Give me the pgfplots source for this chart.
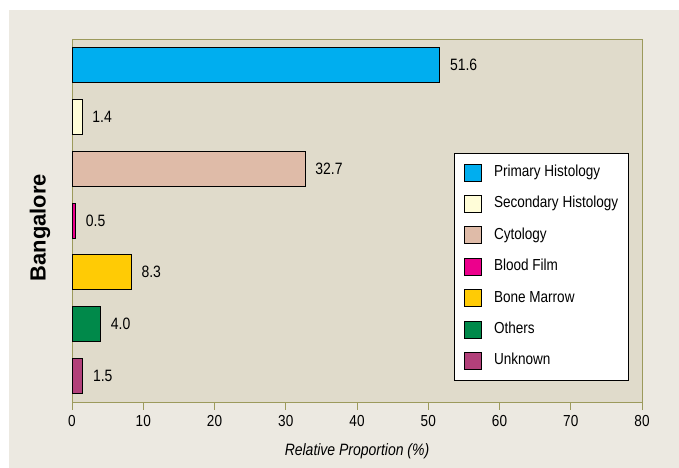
\documentclass[border=0pt]{standalone}
\usepackage{fontspec}
\setmainfont{Liberation Sans}[FakeStretch=0.85]
\newfontfamily\plainsans{Liberation Sans}
\usepackage{pgfplots}
\pgfplotsset{compat=1.18}
\definecolor{outerbg}{HTML}{ECE9E1}
\definecolor{plotbg}{HTML}{E0DBCB}
\definecolor{olivax}{HTML}{9C9A5C}
\definecolor{cPH}{HTML}{00AEEF}
\definecolor{cSH}{HTML}{FFFDD8}
\definecolor{cCY}{HTML}{DFBBA8}
\definecolor{cBF}{HTML}{EC008C}
\definecolor{cBM}{HTML}{FFCB05}
\definecolor{cOT}{HTML}{00894A}
\definecolor{cUN}{HTML}{B2407A}
\pgfplotsset{myleg/.style={legend image code/.code={\draw[##1,line width=0.8bp] (0bp,-8.5bp) rectangle (17bp,8.5bp);}}}
\begin{document}
\begin{tikzpicture}[x=1bp,y=1bp]
\fill[white] (0,0) rectangle (679,468);
\fill[outerbg] (9,0) rectangle (679,458);
\begin{axis}[
 at={(72bp,65bp)}, anchor=south west,
 scale only axis, width=570bp, height=363bp,
 xmin=0, xmax=80, ymin=-0.52, ymax=6.48,
 xbar, bar width=35bp, bar shift=0pt,
 axis background/.style={fill=plotbg},
 axis line style={olivax, line width=1bp},
 xtick={0,10,...,80}, ytick=\empty,
 xtick pos=bottom, tick align=outside, major tick length=7bp,
 tick style={olivax, line width=1bp},
 xticklabel style={font=\fontsize{16}{18}\selectfont, yshift=-2bp},
 /pgf/number format/assume math mode=true,
 xlabel={\itshape Relative Proportion (\%)},
 xlabel style={font=\fontsize{16.5}{18}\selectfont, at={(axis description cs:0.5,-0.132)}, anchor=center},
 ylabel={\plainsans\bfseries Bangalore},
 ylabel style={font=\fontsize{22}{24}\selectfont, at={(axis description cs:-0.056,0.483)}, anchor=center, rotate=0},
 nodes near coords={\pgfmathprintnumber[fixed,fixed zerofill,precision=1]{\pgfplotspointmeta}},
 point meta=x,
 every node near coord/.append style={anchor=west, inner sep=0pt, xshift=10bp, font=\fontsize{16.5}{18}\selectfont, text=black},
 legend style={at={(0.670,0.689)}, anchor=north west, draw=black, fill=white, line width=0.6bp,
   font=\fontsize{16}{18}\selectfont, inner xsep=10bp, inner ysep=10.5bp, row sep=13.6bp, column sep=12bp,
   nodes={inner sep=0pt, text height=12bp, text depth=4bp}},
 legend cell align=left,
]
\addplot[fill=cPH, draw=black, line width=0.8bp, myleg] coordinates {(51.6,6)};
\addplot[fill=cSH, draw=black, line width=0.8bp, myleg] coordinates {(1.4,5)};
\addplot[fill=cCY, draw=black, line width=0.8bp, myleg] coordinates {(32.7,4)};
\addplot[fill=cBF, draw=black, line width=0.8bp, myleg] coordinates {(0.5,3)};
\addplot[fill=cBM, draw=black, line width=0.8bp, myleg] coordinates {(8.3,2)};
\addplot[fill=cOT, draw=black, line width=0.8bp, myleg] coordinates {(4.0,1)};
\addplot[fill=cUN, draw=black, line width=0.8bp, myleg] coordinates {(1.5,0)};
\legend{Primary Histology, Secondary Histology, Cytology, Blood Film, Bone Marrow, Others, Unknown}
\end{axis}
\pgfresetboundingbox
\useasboundingbox (0,0) rectangle (679,468);
\end{tikzpicture}
\end{document}
